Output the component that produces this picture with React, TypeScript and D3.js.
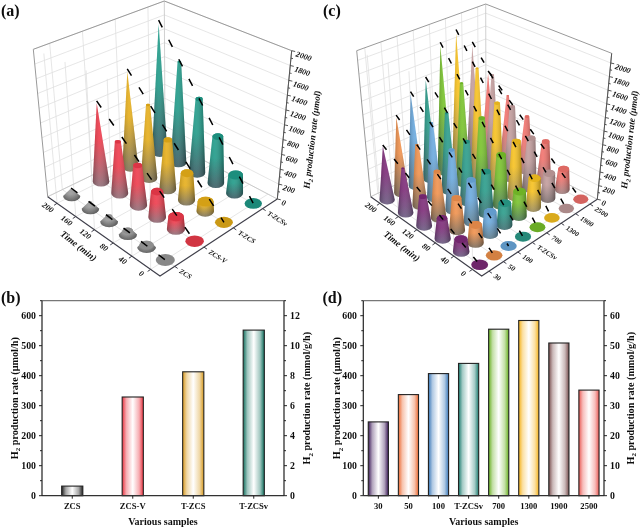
import React from "react";
import * as d3 from "d3";

const timeTicks = [0, 40, 80, 120, 160, 200];
const zTicks = [0, 200, 400, 600, 800, 1000, 1200, 1400, 1600, 1800, 2000];

const samplesA = ["ZCS", "ZCS-V", "T-ZCS", "T-ZCSv"];
const zcsA = [0, 25, 45, 65, 85, 105];
const zcsVA = [0, 156, 327, 519, 690, 1070];
const tZcsA = [0, 124, 354, 658, 997, 1326];
const tZcsvA = [0, 246, 632, 1017, 1409, 1818];

const samplesC = ["30", "50", "100", "T-ZCSv", "700", "1300", "1900", "2500"];
const s30 = [0, 160, 271, 396, 623, 770];
const s50 = [0, 234, 429, 636, 854, 1100];
const s100 = [0, 293, 572, 837, 1072, 1345];
const sTZCSv = [0, 295, 580, 853, 1116, 1465];
const s700 = [0, 339, 706, 1088, 1458, 1880];
const s1300 = [0, 408, 788, 1206, 1586, 1980];
const s1900 = [0, 360, 729, 1055, 1392, 1710];
const s2500 = [0, 300, 565, 800, 978, 1185];

const colorsA = ["#9a9a9a", "#ee3b4b", "#e6ae1a", "#1f9a88"];
const basesA = ["#555555", "#8f6c76", "#7c7258", "#3b5a62"];
const colorsC = ["#7d2c78", "#f0914c", "#6aa9de", "#2a9c8a", "#78c22c", "#f7c11f", "#c29c9c", "#f1726c"];
const basesC = ["#6a5a80", "#7a6a58", "#5b7a8a", "#3f6f72", "#4c7a52", "#9a8a58", "#7d7070", "#a08080"];

const barSamplesB = ["ZCS", "ZCS-V", "T-ZCS", "T-ZCSv"];
const barValuesB = [32, 329, 413, 552];
const barColorsB = ["#222222", "#e8323f", "#d89a20", "#12705f"];
const barSamplesD = ["30", "50", "100", "T-ZCSv", "700", "1300", "1900", "2500"];
const barValuesD = [246, 337, 407, 441, 555, 584, 509, 352];
const barColorsD = ["#3c1a58", "#ec6a32", "#3a78b8", "#1d7d70", "#68b020", "#f5b21a", "#7a5050", "#ea5a54"];

type Pt = [number, number];
type Box = { F: Pt; R: Pt; L: Pt; B: Pt; Ft: Pt; Rt: Pt; Lt: Pt; Bt: Pt };

const boxA: Box = { F: [160, 276], R: [277.3, 199], L: [47.7, 196.7], B: [165, 140], Ft: [160, 100], Rt: [291.7, 50.7], Lt: [33.3, 49.3], Bt: [164.3, 1] };
const boxC: Box = { F: [481.7, 276], R: [597.3, 199.3], L: [370.7, 196.7], B: [486, 142], Ft: [482, 100], Rt: [611.7, 53.3], Lt: [356.7, 50.7], Bt: [485.7, 4] };

function bil(a: Pt, b: Pt, c: Pt, d: Pt, u: number, v: number): Pt {
  const f = (i: 0 | 1) => a[i] * (1 - u) * (1 - v) + b[i] * u * (1 - v) + c[i] * (1 - u) * v + d[i] * u * v;
  return [f(0), f(1)];
}

const fmt = (p: Pt) => `${p[0].toFixed(2)},${p[1].toFixed(2)}`;
const shade = (c: string, k: number) => d3.interpolateRgb(c, "#000")(k);

function Surface({ id, box, samples, rows, colors, bases, zMax, r0, dash }: any) {
  const uScale = d3.scaleBand<string>().domain(samples).range([0, 1]);
  const vScale = d3.scaleLinear().domain([-20, 220]).range([0, 1]);
  const zScale = d3.scaleLinear().domain([0, zMax]).range([0, 1]);
  const P = (u: number, v: number, z: number): Pt => {
    const g = bil(box.F, box.R, box.L, box.B, u, v);
    const t = bil(box.Ft, box.Rt, box.Lt, box.Bt, u, v);
    const k = zScale(z);
    return [g[0] + (t[0] - g[0]) * k, g[1] + (t[1] - g[1]) * k];
  };
  const line = d3.line<Pt>();
  const seg = (a: Pt, b: Pt) => line([a, b]) as string;
  const uc = (s: string) => (uScale(s) as number) + uScale.bandwidth() / 2;

  const grid: string[] = [];
  zTicks.forEach((z) => {
    grid.push(seg(P(0, 1, z), P(1, 1, z)));
    grid.push(seg(P(1, 0, z), P(1, 1, z)));
  });
  timeTicks.forEach((t) => {
    const v = vScale(t);
    grid.push(seg(P(0, v, 0), P(1, v, 0)));
    grid.push(seg(P(0, v, 0), P(0, v, zMax)));
  });
  samples.forEach((s: string) => {
    const u = uc(s);
    grid.push(seg(P(u, 0, 0), P(u, 1, 0)));
    grid.push(seg(P(u, 1, 0), P(u, 1, zMax)));
  });

  const marks: any[] = [];
  samples.forEach((s: string, i: number) => {
    rows[i].forEach((h: number, j: number) => {
      marks.push({ s, i, j, h, u: uc(s), v: vScale(timeTicks[j]), tip: rows[i][5] });
    });
  });
  marks.sort((a, b) => b.u + b.v - (a.u + a.v));

  return (
    <g>
      <defs>
        {colors.map((c: string, i: number) => (
          <linearGradient key={i} id={`${id}v${i}`} x1="0" x2="0" y1="0" y2="1">
            <stop offset="0" stopColor={c} />
            <stop offset="0.45" stopColor={c} />
            <stop offset="1" stopColor={bases[i]} />
          </linearGradient>
        ))}
        <linearGradient id={`${id}h`} x1="0" x2="1" y1="0" y2="0">
          <stop offset="0" stopColor="#000" stopOpacity="0.22" />
          <stop offset="0.42" stopColor="#fff" stopOpacity="0.1" />
          <stop offset="1" stopColor="#000" stopOpacity="0.32" />
        </linearGradient>
      </defs>
      <path d={grid.join("")} fill="none" stroke="#e0e0e0" strokeWidth="0.8" />
      <path d={`${seg(P(1, 1, 0), P(1, 1, zMax))}${seg(P(0, 1, 0), P(1, 1, 0))}${seg(P(1, 0, 0), P(1, 1, 0))}`} fill="none" stroke="#c4c4c4" strokeWidth="0.8" />
      <path d={`M${fmt(box.L)}L${fmt(box.Lt)}L${fmt(box.Bt)}L${fmt(box.Rt)}L${fmt(box.R)}`} fill="none" stroke="#9a9a9a" strokeWidth="1" />
      <path d={`M${fmt(box.L)}L${fmt(box.F)}L${fmt(box.R)}`} fill="none" stroke="#3f3f4a" strokeWidth="1.1" />

      {marks.map((m) => {
        const persp = 1 - 0.12 * (m.u + m.v);
        const rx = r0 * persp;
        const ry = rx * 0.62;
        const c = P(m.u, m.v, 0);
        if (m.h === 0) {
          return <ellipse key={`${m.i}-${m.j}`} cx={c[0]} cy={c[1]} rx={rx} ry={ry} fill={shade(colors[m.i], 0.12)} />;
        }
        const t = P(m.u, m.v, m.h);
        const k = Math.max(0, 1 - m.h / m.tip);
        const rtx = rx * k;
        const rty = ry * k;
        const d = `M${c[0] - rx},${c[1]}A${rx},${ry} 0 0 0 ${c[0] + rx},${c[1]}L${t[0] + rtx},${t[1]}` +
          (k > 0 ? `A${rtx},${rty} 0 0 0 ${t[0] - rtx},${t[1]}` : "") + "Z";
        return (
          <g key={`${m.i}-${m.j}`}>
            <path d={d} fill={`url(#${id}v${m.i})`} />
            <path d={d} fill={`url(#${id}h)`} />
            {k > 0 && <ellipse cx={t[0]} cy={t[1]} rx={rtx} ry={rty} fill={shade(colors[m.i], 0.08)} />}
          </g>
        );
      })}

      {samples.map((s: string, i: number) => {
        const u = uc(s);
        const top = P(u, vScale(200), rows[i][5] * 1.03);
        const bot = P(u, vScale(0), 0);
        return <line key={s} x1={top[0]} y1={top[1]} x2={bot[0]} y2={bot[1]} stroke="#000" strokeWidth="1.5" strokeDasharray={dash} />;
      })}

      {timeTicks.map((t) => {
        const p = P(0, vScale(t), 0);
        return (
          <g key={t}>
            <line x1={p[0]} y1={p[1]} x2={p[0] - 3} y2={p[1] + 2} stroke="#3f3f4a" />
            <text transform={`translate(${p[0] - 9},${p[1] + 4}) rotate(36)`} textAnchor="middle" dy="0.35em" fontSize="8" fontWeight="bold" fontStyle="italic">{t}</text>
          </g>
        );
      })}
      {samples.map((s: string) => {
        const p = P(uc(s), 0, 0);
        return (
          <g key={s}>
            <line x1={p[0]} y1={p[1]} x2={p[0] + 3} y2={p[1] + 2} stroke="#3f3f4a" />
            <text transform={`translate(${p[0] + 5.5},${p[1] + 4}) rotate(32)`} dy="0.35em" fontSize="7" fontWeight="bold" fontStyle="italic">{s}</text>
          </g>
        );
      })}
      <path d={seg(P(1, 0, 0), P(1, 0, zMax))} stroke="#555" strokeWidth="1" fill="none" />
      {d3.range(0, 2001, 100).map((z) => {
        const p = P(1, 0, z);
        const major = z % 200 === 0;
        return <line key={z} x1={p[0]} y1={p[1]} x2={p[0] + (major ? 3.5 : 2)} y2={p[1] + (major ? 0.8 : 0.5)} stroke="#444" strokeWidth="0.9" />;
      })}
      {zTicks.map((z) => {
        const p = P(1, 0, z);
        return <text key={z} transform={`translate(${p[0] + 4.5},${p[1] + 3}) rotate(18)`} dy="0.35em" fontSize="8" fontWeight="bold" fontStyle="italic">{z}</text>;
      })}
    </g>
  );
}

function H2Label({ unit, transform, size = 10.2, italic = false }: any) {
  return (
    <text transform={transform} textAnchor="middle" fontSize={size} fontWeight="bold" fontStyle={italic ? "italic" : "normal"}>
      H<tspan fontSize={size * 0.68} dy="2.5">2</tspan><tspan dy="-2.5"> production rate ({unit})</tspan>
    </text>
  );
}

function Bars({ id, samples, values, colors, x0, x1, rightMax, rightStep, rightUnit, padding, titleLeftX, titleRightX, tickLeftX }: any) {
  const top = 300.7;
  const bottom = 495.7;
  const x = d3.scaleBand<string>().domain(samples).range([x0, x1]).paddingInner(padding).paddingOuter(padding / 2);
  const y = d3.scaleLinear().domain([0, 650]).range([bottom, top]);
  const yr = d3.scaleLinear().domain([0, rightMax]).range([bottom, top]);
  const leftTicks = d3.range(0, 601, 100);
  const minorLeft = d3.range(50, 651, 100);
  const rightTicks = d3.range(0, rightMax, rightStep);
  const minorRight = d3.range(rightStep / 2, rightMax + 0.001, rightStep);
  const midY = (top + bottom) / 2;
  return (
    <g>
      <defs>
        {colors.map((c: string, i: number) => {
          const mid = d3.interpolateRgb(c, "#fff")(0.6);
          return (
            <linearGradient key={i} id={`${id}b${i}`} x1="0" x2="1" y1="0" y2="0">
              <stop offset="0" stopColor={c} />
              <stop offset="0.2" stopColor={mid} />
              <stop offset="0.5" stopColor="#ffffff" />
              <stop offset="0.8" stopColor={mid} />
              <stop offset="1" stopColor={c} />
            </linearGradient>
          );
        })}
      </defs>
      {samples.map((s: string, i: number) => (
        <rect key={s} x={x(s)} width={x.bandwidth()} y={y(values[i])} height={bottom - y(values[i])} fill={`url(#${id}b${i})`} stroke="#222" strokeWidth="1.1" />
      ))}
      <line x1={x0} x2={x1} y1={top} y2={top} stroke="#777" strokeWidth="1.3" />
      <line x1={x0} x2={x1} y1={bottom} y2={bottom} stroke="#333" strokeWidth="1.3" />
      <line x1={x0} x2={x0} y1={top} y2={bottom} stroke="#222" strokeWidth="1.2" />
      <line x1={x1} x2={x1} y1={top} y2={bottom} stroke="#222" strokeWidth="1.2" />
      {leftTicks.map((t) => (
        <g key={t}>
          <line x1={x0 - 3} x2={x0} y1={y(t)} y2={y(t)} stroke="#222" />
          <text x={tickLeftX} y={y(t)} dy="0.35em" textAnchor="end" fontSize="9.8" fontWeight="bold">{t}</text>
        </g>
      ))}
      {minorLeft.map((t) => <line key={t} x1={x0 - 2} x2={x0} y1={y(t)} y2={y(t)} stroke="#222" />)}
      {rightTicks.map((t: number) => (
        <g key={t}>
          <line x1={x1} x2={x1 + 3} y1={yr(t)} y2={yr(t)} stroke="#222" />
          <text x={x1 + 6} y={yr(t)} dy="0.35em" fontSize="9.8" fontWeight="bold">{t}</text>
        </g>
      ))}
      {minorRight.map((t: number) => <line key={t} x1={x1} x2={x1 + 2} y1={yr(t)} y2={yr(t)} stroke="#222" />)}
      {samples.map((s: string) => {
        const c = (x(s) as number) + x.bandwidth() / 2;
        return (
          <g key={s}>
            <line x1={c} x2={c} y1={bottom} y2={bottom + 3} stroke="#222" />
            <text x={c} y={506} dy="0.35em" textAnchor="middle" fontSize="8.6" fontWeight="bold">{s}</text>
          </g>
        );
      })}
      <text x={(x0 + x1) / 2} y={524.5} textAnchor="middle" fontSize="10" fontWeight="bold">Various samples</text>
      <H2Label unit="μmol/h" transform={`translate(${titleLeftX},${midY}) rotate(-90)`} />
      <H2Label unit={rightUnit} transform={`translate(${titleRightX},${midY}) rotate(-90)`} />
    </g>
  );
}

export default function App() {
  return (
    <svg width={641} height={529} viewBox="0 0 641 529" style={{ position: "absolute", left: 0, top: 0, fontFamily: "'Liberation Serif', serif" }}>
      <defs>
        <filter id="soft" x="0" y="0" width="641" height="529" filterUnits="userSpaceOnUse">
          <feGaussianBlur stdDeviation="0.35" />
        </filter>
      </defs>
      <rect width={641} height={529} fill="#fff" />
      <g filter="url(#soft)" fill="#111" stroke="none">
        <Surface id="a" box={boxA} samples={samplesA} rows={[zcsA, zcsVA, tZcsA, tZcsvA]} colors={colorsA} bases={basesA} zMax={2000} r0={9.8} dash="8 14" />
        <Surface id="c" box={boxC} samples={samplesC} rows={[s30, s50, s100, sTZCSv, s700, s1300, s1900, s2500]} colors={colorsC} bases={basesC} zMax={2142} r0={8.6} dash="6 12" />
        <text transform="translate(78.7,245.7) rotate(38)" textAnchor="middle" dy="0.35em" fontSize="9.4" fontWeight="bold" fontStyle="italic">Time (min)</text>
        <text transform="translate(402,246) rotate(38)" textAnchor="middle" dy="0.35em" fontSize="9.4" fontWeight="bold" fontStyle="italic">Time (min)</text>
        <H2Label unit="μmol" italic size={9.2} transform="translate(315,140) rotate(-83.5)" />
        <H2Label unit="μmol" italic size={9.2} transform="translate(632.5,140) rotate(-83.5)" />
        <Bars id="b" samples={barSamplesB} values={barValuesB} colors={barColorsB} x0={42} x1={284} rightMax={13} rightStep={2} rightUnit="mmol/g/h" padding={0.65} titleLeftX={17.5} titleRightX={310} tickLeftX={36} />
        <Bars id="d" samples={barSamplesD} values={barValuesD} colors={barColorsD} x0={363.3} x1={604} rightMax={65} rightStep={10} rightUnit="mmol/g/h" padding={0.33} titleLeftX={340} titleRightX={633.5} tickLeftX={357} />
        <text x={1} y={16} fontSize="16" fontWeight="bold">(a)</text>
        <text x={1} y={303} fontSize="16" fontWeight="bold">(b)</text>
        <text x={323} y={16} fontSize="16" fontWeight="bold">(c)</text>
        <text x={322.5} y={303} fontSize="16" fontWeight="bold">(d)</text>
      </g>
    </svg>
  );
}
